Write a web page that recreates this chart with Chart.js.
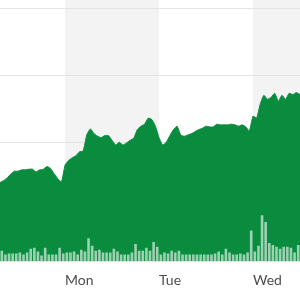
<!DOCTYPE html>
<html>
<head>
<meta charset="utf-8">
<script src="https://cdn.jsdelivr.net/npm/chart.js@4"></script>
<style>
  body { margin: 0; background: #fff; }
  #wrap { width: 300px; height: 300px; }
</style>
</head>
<body>
<div id="wrap"><canvas id="stockChart" width="300" height="300"></canvas></div>
<script>
// day labels and where each trading day starts (in 15-min slots)
let dayLabels = ['Mon', 'Tue', 'Wed'];
let dayStarts = [18, 44, 70];
let totalSlots = 83;

// price, one value per slot (0..83)
let prices = [21.40, 21.43, 21.47, 21.53, 21.57, 21.57, 21.59, 21.59, 21.60, 21.60,
              21.56, 21.59, 21.60, 21.64, 21.61, 21.53, 21.46, 21.41, 21.66, 21.73,
              21.77, 21.80, 21.86, 21.87, 22.11, 22.20, 22.13, 22.09, 22.07, 22.10,
              22.10, 22.03, 21.96, 22.00, 21.96, 21.99, 22.03, 22.06, 22.19, 22.24,
              22.27, 22.36, 22.34, 22.24, 22.07, 21.96, 22.00, 22.10, 22.19, 22.24,
              22.11, 22.09, 22.11, 22.13, 22.16, 22.19, 22.21, 22.24, 22.23, 22.23,
              22.27, 22.26, 22.26, 22.26, 22.27, 22.26, 22.24, 22.26, 22.23, 22.17,
              22.39, 22.36, 22.57, 22.70, 22.64, 22.67, 22.73, 22.61, 22.70, 22.64,
              22.73, 22.71, 22.74, 22.71];

// volume per slot (thousands)
let volumes = [110, 70, 80, 80, 80, 90, 70, 90, 130, 140,
               100, 60, 140, 70, 70, 70, 140, 80, 90, 90,
               100, 70, 120, 100, 240, 160, 110, 120, 90, 90,
               90, 130, 100, 70, 70, 70, 90, 180, 110, 110,
               140, 110, 200, 150, 70, 90, 80, 110, 90, 110,
               70, 70, 70, 70, 70, 70, 70, 70, 70, 80,
               100, 70, 130, 90, 70, 70, 80, 70, 90, 320,
               100, 160, 480, 410, 190, 170, 150, 130, 150, 150,
               140, 90, 170];

const priceData = prices.map((p, i) => ({ x: i, y: p }));
const volumeData = volumes.map((v, i) => ({ x: i + 0.5, y: v }));

// shaded bands for alternating days
const dayBands = {
    id: 'dayBands',
    beforeDraw(chart) {
        const { ctx, chartArea, scales } = chart;
        const x = scales.x;
        ctx.save();
        ctx.fillStyle = '#f3f3f3';
        for (let i = 0; i < dayStarts.length; i += 2) {
            const x1 = x.getPixelForValue(dayStarts[i]);
            const end = i + 1 < dayStarts.length ? dayStarts[i + 1] : totalSlots;
            const x2 = x.getPixelForValue(end);
            ctx.fillRect(x1, 0, x2 - x1, chartArea.bottom);
        }
        ctx.restore();
    }
};

const ctx = document.getElementById('stockChart').getContext('2d');
const stockChart = new Chart(ctx, {
    type: 'line',
    data: {
        datasets: [{
            type: 'bar',
            label: 'Volume',
            data: volumeData,
            yAxisID: 'yv',
            backgroundColor: 'rgba(255, 255, 255, 0.6)',
            borderWidth: 0,
            barPercentage: 0.72,
            categoryPercentage: 1,
            order: 0
        }, {
            label: 'Price',
            data: priceData,
            borderColor: '#098c3e',
            backgroundColor: '#098c3e',
            borderWidth: 1,
            pointRadius: 0,
            tension: 0.15,
            fill: 'start',
            order: 1
        }]
    },
    options: {
        responsive: false,
        animation: false,
        layout: { padding: { top: 8, bottom: 8, left: 0, right: 0 } },
        scales: {
            x: {
                type: 'linear',
                min: 0,
                max: totalSlots,
                offset: false,
                grid: { display: false },
                border: { display: false },
                afterBuildTicks: (axis) => {
                    axis.ticks = dayStarts.map(v => ({ value: v }));
                },
                ticks: {
                    autoSkip: false,
                    maxRotation: 0,
                    align: 'start',
                    padding: 3,
                    color: '#4d4d4d',
                    font: { family: 'Lato', size: 14 },
                    callback: (value) => dayLabels[dayStarts.indexOf(value)]
                }
            },
            y: {
                min: 20.23,
                max: 24,
                ticks: { display: false, stepSize: 1 },
                grid: { color: '#e4e4e4', lineWidth: 1, drawTicks: false },
                border: { display: false }
            },
            yv: {
                display: false,
                min: 0,
                max: 2640
            }
        },
        plugins: {
            legend: { display: false },
            tooltip: { enabled: false }
        }
    },
    plugins: [dayBands]
});
</script>
</body>
</html>
